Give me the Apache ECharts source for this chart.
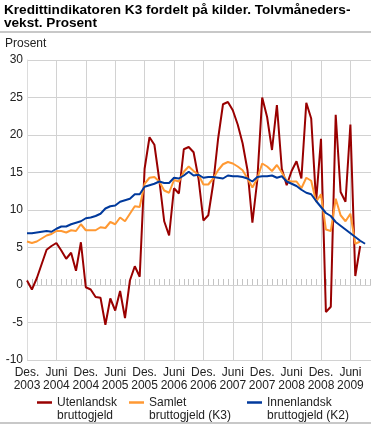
<!DOCTYPE html>
<html>
<head>
<meta charset="utf-8">
<script src="https://cdn.jsdelivr.net/npm/echarts@6/dist/echarts.min.js"></script>
<style>html,body{margin:0;padding:0;background:#fff;}#c{width:371px;height:425px;}</style>
</head>
<body>
<div id="c"></div>
<script>
// Months from Des. 2003 (index 0) onward
const xTickLabels = ['Des.\n2003','Juni\n2004','Des.\n2004','Juni\n2005','Des.\n2005','Juni\n2006','Des.\n2006','Juni\n2007','Des.\n2007','Juni\n2008','Des.\n2008','Juni\n2009'];
const yTicks = [-10, -5, 0, 5, 10, 15, 20, 25, 30];
const seriesNames = ['Utenlandsk\nbruttogjeld', 'Samlet\nbruttogjeld (K3)', 'Innenlandsk\nbruttogjeld (K2)'];

const utenlandsk = [0.6,-0.6,0.9,2.8,4.7,5.2,5.6,4.6,3.5,4.3,1.9,5.7,
  -0.3,-0.6,-1.6,-1.7,-5.3,-1.8,-3.4,-0.8,-4.4,0.6,2.5,1.1,
  15.5,19.7,18.7,14.0,8.5,6.6,12.9,12.2,18.1,18.4,17.7,14.2,
  8.6,9.3,13.5,19.5,24.1,24.4,23.3,21.4,18.9,15.3,8.3,14.0,
  25.0,22.4,18.0,24.0,15.5,13.3,15.2,16.5,14.2,24.3,22.2,11.1,
  19.5,-3.6,-2.9,22.7,12.4,11.1,21.4,1.2,5.2];
const samlet = [5.8,5.6,5.8,6.2,6.6,6.8,7.2,7.2,7.0,7.3,7.2,8.1,
  7.3,7.3,7.3,7.7,7.6,8.4,8.1,9.0,8.5,9.5,10.5,10.4,
  13.5,14.3,14.4,13.8,12.6,12.3,14.0,13.8,15.1,15.8,15.2,14.7,
  13.4,13.4,14.2,15.3,16.1,16.4,16.2,15.8,15.3,14.2,13.0,14.2,
  16.2,15.8,15.2,16.0,15.0,13.9,13.8,13.8,12.9,14.3,13.9,11.1,
  12.1,7.4,7.2,11.5,9.3,8.5,9.5,5.5,5.8];
const innenlandsk = [6.9,6.9,7.0,7.1,7.2,7.1,7.5,7.8,7.8,8.1,8.3,8.5,
  8.9,9.0,9.2,9.5,10.2,10.5,10.6,11.1,11.3,11.5,12.1,12.1,
  13.1,13.3,13.5,13.8,13.6,13.6,14.3,14.2,14.6,15.1,14.6,14.7,
  14.3,14.4,14.4,14.3,14.2,14.6,14.5,14.5,14.4,14.2,13.8,14.4,
  14.5,14.5,14.6,14.3,14.5,13.8,13.5,13.2,12.7,12.3,12.1,11.2,
  10.4,9.6,9.2,8.4,7.9,7.4,6.9,6.4,5.9,5.5];

const colors = ['#990000', '#ff9933', '#00399c'];
const FONT = "'Liberation Sans', Arial, sans-serif";

const toPairs = arr => arr.map((v, i) => [i, v]);

const chart = echarts.init(document.getElementById('c'), null, {renderer: 'canvas'});

const legendTop = 383;
const legendLefts = [37, 129, 247];

chart.setOption({
  animation: false,
  textStyle: {fontFamily: FONT},
  title: [
    {
      text: 'Kredittindikatoren K3 fordelt på kilder. Tolvmåneders-\nvekst. Prosent',
      left: 4, top: 3, padding: 0,
      textStyle: {fontFamily: FONT, fontSize: 13.6, fontWeight: 'bold', color: '#000', lineHeight: 13.5}
    },
    {
      text: 'Prosent',
      left: 5, top: 37, padding: 0,
      textStyle: {fontFamily: FONT, fontSize: 12, fontWeight: 'normal', color: '#222', lineHeight: 13}
    }
  ],
  graphic: [
    {type: 'rect', left: 0, top: 31, shape: {width: 371, height: 2}, style: {fill: '#c8c8c8'}, silent: true},
    {type: 'rect', left: 0, top: 422, shape: {width: 371, height: 2}, style: {fill: '#c8c8c8'}, silent: true}
  ],
  legend: seriesNames.map((n, i) => ({
    data: [n],
    left: legendLefts[i], top: legendTop, padding: 0,
    orient: 'horizontal',
    icon: 'rect', itemWidth: 15, itemHeight: 2.5,
    selectedMode: false,
    formatter: name => ' \n' + name,
    textStyle: {fontFamily: FONT, fontSize: 12, color: '#222', lineHeight: 13}
  })),
  grid: {left: 27, right: -8.8, top: 60, bottom: 65, containLabel: false, outerBoundsMode: 'none'},
  xAxis: [
    {
      type: 'value', min: 0, max: 72, interval: 6, position: 'bottom',
      axisLine: {show: false, onZero: false},
      axisTick: {show: false},
      axisLabel: {
        margin: 6, fontSize: 12, lineHeight: 13, color: '#222', fontFamily: FONT,
        formatter: v => {
          const i = v / 6;
          return (Number.isInteger(i) && i < xTickLabels.length) ? xTickLabels[i] : '';
        }
      },
      splitLine: {show: true, lineStyle: {color: '#d2d2d2', width: 1}}
    },
    {
      type: 'value', min: 0, max: 72, interval: 6, position: 'bottom',
      axisLine: {show: false, onZero: true},
      axisLabel: {show: false},
      axisTick: {show: true, inside: true, length: 6, lineStyle: {color: '#c4c4c4', width: 1}},
      minorTick: {show: true, splitNumber: 6, length: 6, lineStyle: {color: '#c4c4c4', width: 1}},
      splitLine: {show: false}
    }
  ],
  yAxis: {
    type: 'value', min: yTicks[0], max: yTicks[yTicks.length - 1], interval: 5,
    axisLine: {show: true, lineStyle: {color: '#dcdcdc', width: 1}},
    axisTick: {show: false},
    axisLabel: {margin: 4, fontSize: 12, color: '#222', fontFamily: FONT},
    splitLine: {show: true, lineStyle: {color: '#d2d2d2', width: 1}}
  },
  series: [
    {name: seriesNames[0], type: 'line', data: toPairs(utenlandsk), showSymbol: false, symbol: 'none',
      lineStyle: {color: colors[0], width: 2}, itemStyle: {color: colors[0]}},
    {name: seriesNames[1], type: 'line', data: toPairs(samlet), showSymbol: false, symbol: 'none',
      lineStyle: {color: colors[1], width: 2}, itemStyle: {color: colors[1]}},
    {name: seriesNames[2], type: 'line', data: toPairs(innenlandsk), showSymbol: false, symbol: 'none',
      lineStyle: {color: colors[2], width: 2}, itemStyle: {color: colors[2]}}
  ]
});
</script>
</body>
</html>
